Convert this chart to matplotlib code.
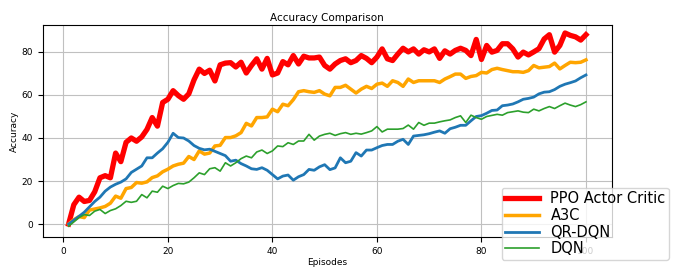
import numpy as np
import matplotlib.pyplot as plt

# Datos
episodios = np.arange(1, 101)

ppo = [0, 9, 12.5, 10.5, 11, 15, 21.5, 22.5, 21.5, 33,
       29, 38, 40, 38.5, 40.5, 44, 49.5, 45.5, 56.5, 58,
       62, 59.7, 58, 60.5, 67, 72, 70, 71.5, 66.5, 74,
       74.8, 75, 73, 75.2, 70.2, 73.7, 76.8, 72, 77, 69.3,
       70.2, 75.5, 74, 78.3, 74.4, 78, 77.2, 77.2, 77.6, 73.7,
       72, 74.4, 76, 76.8, 75, 76, 78.3, 77, 75, 77.6,
       81.4, 76.8, 76, 79, 81.7, 80, 81.4, 79, 81, 80,
       81.4, 77, 80.5, 79, 80.7, 81.7, 80.7, 78.3, 85.8, 76.5,
       83, 79.9, 80.7, 83.8, 83.8, 81.4, 77.6, 79.9, 78.6, 80,
       81.5, 86, 88, 79.9, 83, 88.8, 87.7, 87, 85.5, 88]

a3c = [0, 2, 3.5, 3, 6.5, 7, 7.5, 8.2, 9.7, 13,
       12, 16.5, 17, 19.3, 19, 19.6, 21.6, 22.4, 24.3, 25.5,
       27, 27.8, 28.3, 31.4, 30, 34, 32.5, 33, 36.3, 36.6,
       40.2, 40.2, 41, 42.5, 46.8, 45.6, 49.5, 49.5, 49.8, 53.4,
       52.2, 55.7, 55, 57.8, 61.5, 62, 61.5, 61.2, 62, 60.4,
       59.6, 63.5, 63.5, 64.5, 62.7, 60.9, 62.7, 64, 63, 65,
       65.5, 64, 66.6, 65.8, 64, 67.4, 65.8, 66.6, 66.6, 66.6,
       66.6, 65.8, 67.4, 68.5, 69.7, 69.7, 67.7, 68.6, 69, 70.5,
       70.2, 71.8, 72.4, 71.8, 71.3, 70.8, 70.8, 70.5, 71.3, 73.7,
       72.6, 72.9, 73.2, 74.8, 72.1, 73.7, 75.2, 75, 75.2, 76.3]

qrdqn = [0, 1.8, 3.6, 5.5, 8, 10.5, 12.5, 15.3, 17.2, 18.5,
         19.5, 21, 24, 25.5, 27, 30.8, 30.8, 33, 35, 38,
         42.2, 40.2, 40, 38.6, 36.5, 35.2, 34.5, 34.8, 33.8, 32.8,
         31.8, 29.2, 29.7, 28.1, 27, 25.7, 25.4, 26.2, 25, 23,
         21, 22.3, 22.8, 20.4, 22, 23, 25.4, 25, 26.6, 27.6,
         25.3, 26.1, 30.8, 28.5, 29.2, 33.2, 31.6, 34.4, 34.4, 35.5,
         36.5, 37, 37, 38.5, 39.4, 37, 40.9, 41.2, 41.5, 42,
         42.7, 43.3, 42.2, 44.3, 45, 45.9, 45.9, 48, 50, 50.4,
         51.5, 52.8, 53, 55, 55.3, 55.8, 56.8, 58, 58.4, 59,
         60.5, 61.3, 61.5, 62.5, 64, 65, 65.7, 66.5, 68, 69.3]

dqn = [-1, 1, 3, 4.4, 4, 6, 6.8, 4.9, 6.3, 7.1,
       8.6, 10.6, 10.1, 10.6, 13.7, 12.2, 15.3, 14.8, 17.6, 16.5,
       17.9, 18.9, 18.7, 19.5, 21.5, 23.8, 23, 25.7, 26.2, 24.6,
       28.5, 27, 28.5, 30.4, 31.6, 30.8, 33.5, 34.4, 32.8, 34,
       36.3, 36, 37.8, 37, 38.6, 38.6, 41.7, 39, 40.9, 41.7,
       42.2, 41.2, 42, 42.5, 41.7, 42.2, 41.8, 42.5, 43.3, 45.3,
       42.8, 44.1, 44.1, 44.1, 44.4, 46, 44.1, 47.2, 45.9, 46.9,
       46.9, 47.5, 48, 48.4, 49.5, 50.3, 47.2, 50.6, 49.5, 48.7,
       50, 50.5, 51, 50.6, 51.8, 52.2, 52.6, 52, 51.8, 53.4,
       52.6, 53.7, 54.6, 53.7, 55, 56.2, 55.3, 54.6, 55.5, 56.8]

fig = plt.figure(figsize=(6.89, 2.69), dpi=100)
ax = fig.add_axes([0.062, 0.119, 0.826, 0.788])

ax.plot(episodios, ppo, color='red', lw=3.8, label='PPO Actor Critic')
ax.plot(episodios, a3c, color='orange', lw=2.5, label='A3C')
ax.plot(episodios, qrdqn, color='tab:blue', lw=2, label='QR-DQN')
ax.plot(episodios, dqn, color='tab:green', lw=1.2, label='DQN')

ax.set_ylim(-6, 92.5)
ax.set_xticks([0, 20, 40, 60, 80, 100])
ax.set_yticks([0, 20, 40, 60, 80])
ax.tick_params(labelsize=6.5)
ax.set_xlabel('Episodes', fontsize=6.5, labelpad=2)
ax.set_ylabel('Accuracy', fontsize=6.5, labelpad=2)
ax.set_title('Accuracy Comparison', fontsize=7.5, pad=3)
ax.grid(True, color='#c0c0c0')

ax.legend(loc='lower right', bbox_to_anchor=(0.982, 0.006),
          bbox_transform=fig.transFigure, fontsize=10.5, handlelength=2.3,
          labelspacing=0.12, borderpad=0.25)

plt.savefig('out.png', dpi=100)
